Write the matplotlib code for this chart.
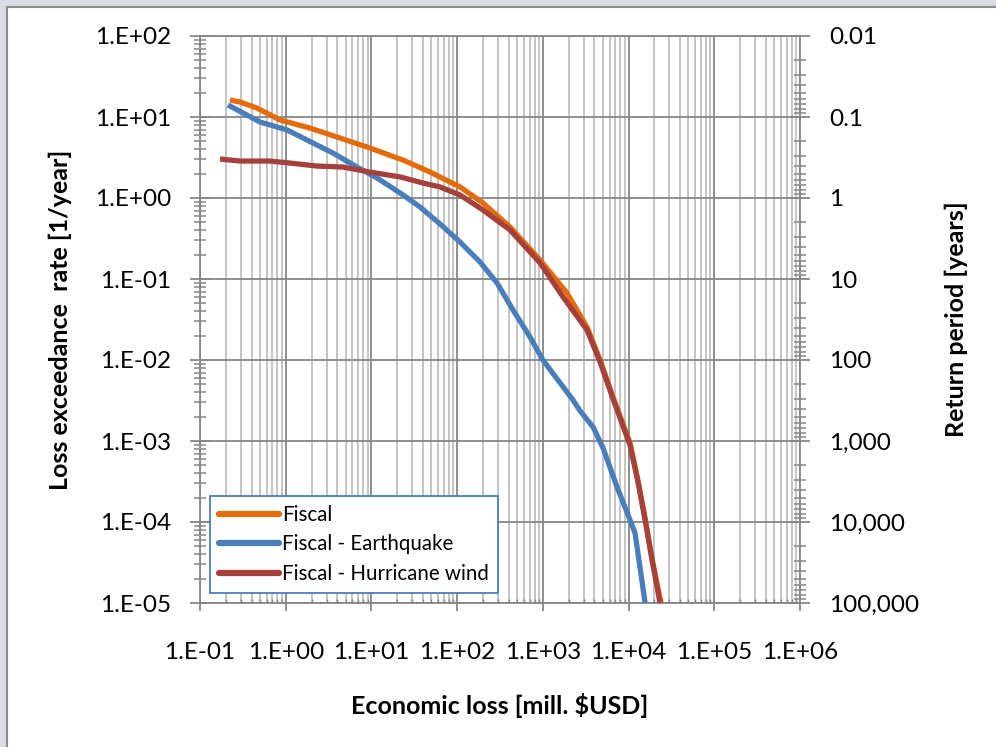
import numpy as np
import matplotlib
matplotlib.use("Agg")
import matplotlib.pyplot as plt
from matplotlib.patches import Rectangle
from matplotlib.ticker import LogLocator, FuncFormatter, NullFormatter

# loss exceedance curves: economic loss [mill. $USD] vs. exceedance rate [1/year]
fiscal_loss = [0.224, 0.293, 0.462, 0.857, 1.92, 3.97, 9.6, 23.4, 48.3, 108, 200,
               414, 927, 1910, 3280, 4650, 6590, 10400, 12900, 15600, 18800, 23900]
fiscal_rate = [16.2, 15.3, 12.9, 9.2, 7.3, 5.66, 4.14, 2.94, 2.09, 1.37, 0.867,
               0.439, 0.172, 0.0672, 0.0255, 0.0100, 0.00349, 9.5e-4, 3.2e-4,
               1.1e-4, 3.5e-5, 1.0e-5]

quake_loss = [0.212, 0.501, 1.04, 1.77, 3.56, 6.79, 11.6, 23.4, 36.9, 63.1, 108, 185,
              292, 449, 709, 1000, 2250, 2720, 3850, 5040, 7340, 10400, 11900, 15600]
quake_rate = [14.1, 8.67, 6.91, 5.2, 3.59, 2.41, 1.77, 1.09, 0.774, 0.478, 0.286,
              0.162, 0.0893, 0.0414, 0.0192, 0.0100, 0.0032, 0.00235, 0.00149,
              8.2e-4, 2.7e-4, 1.06e-4, 7.3e-5, 1.0e-5]

wind_loss = [0.171, 0.293, 0.656, 1.12, 2.32, 4.66, 9.6, 21.6, 40.0, 63.1, 108, 200,
             414, 927, 1720, 3280, 4650, 6590, 10400, 12900, 15600, 18800, 23300]
wind_rate = [3.03, 2.86, 2.86, 2.70, 2.48, 2.41, 2.09, 1.82, 1.53, 1.37, 1.09, 0.711,
             0.403, 0.158, 0.060, 0.0234, 0.00945, 0.0033, 8.9e-4, 3.1e-4, 1.06e-4,
             3.4e-5, 1.0e-5]

series_labels = ["Fiscal", "Fiscal - Earthquake", "Fiscal - Hurricane wind"]
series_colors = ["#E36C09", "#4A7EBB", "#A5403C"]

X_LIM = (1e-1, 1e6)
Y_LIM = (1e-5, 1e2)

GRID_MAJOR = "#868686"
GRID_MINOR = "#BFBFBF"

plt.rcParams["font.family"] = ["Lato", "DejaVu Sans"]

fig = plt.figure(figsize=(9.96, 7.47), dpi=100, facecolor="#D9DEE6")
# white chart area with grey frame (runs off the right/bottom edge)
fig.patches.append(Rectangle((7 / 996, -0.1), 1.2, 1 - 7 / 747 + 0.1,
                             transform=fig.transFigure, facecolor="white",
                             edgecolor="#8C8C8C", lw=1.5, zorder=-10))

ax = fig.add_axes([200 / 996, (747 - 603) / 747, 600 / 996, 567 / 747])
ax.set_xscale("log")
ax.set_yscale("log")
ax.set_xlim(*X_LIM)
ax.set_ylim(*Y_LIM)

for xs, ys, lab, col in zip([fiscal_loss, quake_loss, wind_loss],
                            [fiscal_rate, quake_rate, wind_rate],
                            series_labels, series_colors):
    ax.plot(xs, ys, color=col, lw=3.8, label=lab, solid_capstyle="butt",
            solid_joinstyle="round", zorder=3)
# hurricane drawn on top of the total where they overlap
ax.lines[2].set_zorder(4)

ax.xaxis.set_major_locator(LogLocator(base=10, numticks=20))
ax.xaxis.set_minor_locator(LogLocator(base=10, subs=np.arange(2, 10), numticks=20))
ax.yaxis.set_major_locator(LogLocator(base=10, numticks=20))
ax.yaxis.set_minor_locator(LogLocator(base=10, subs=np.arange(2, 10), numticks=20))

sci = FuncFormatter(lambda v, _: f"1.E{int(round(np.log10(v))):+03d}")
ax.xaxis.set_major_formatter(sci)
ax.yaxis.set_major_formatter(sci)
ax.xaxis.set_minor_formatter(NullFormatter())
ax.yaxis.set_minor_formatter(NullFormatter())

ax.grid(True, which="major", axis="both", color=GRID_MAJOR, lw=1.3, zorder=1)
ax.grid(True, which="minor", axis="x", color=GRID_MINOR, lw=1.3, zorder=1)
ax.set_axisbelow(True)

for s in ax.spines.values():
    s.set_color(GRID_MAJOR)
    s.set_linewidth(1.3)

ax.tick_params(axis="y", which="major", direction="inout", length=14, width=1.3,
               color=GRID_MAJOR, labelsize=17.5, pad=14)
ax.tick_params(axis="y", which="minor", direction="inout", length=9, width=1.1,
               color=GRID_MAJOR)
ax.tick_params(axis="x", which="major", direction="out", length=6, width=1.3,
               color=GRID_MAJOR, labelsize=17.5, pad=22)
ax.tick_params(axis="x", which="minor", direction="in", length=3, width=1.0,
               color=GRID_MAJOR)

ax.set_xlabel("Economic loss [mill. $USD]", fontsize=18, fontweight="bold", labelpad=22)
ax.set_ylabel("Loss exceedance  rate [1/year]", fontsize=18, fontweight="bold", labelpad=16)

# return period axis: reciprocal of the exceedance rate
ax2 = ax.twinx()
ax2.set_yscale("log")
ax2.set_ylim(1 / Y_LIM[0], 1 / Y_LIM[1])
ax2.yaxis.set_major_locator(LogLocator(base=10, numticks=20))
ax2.yaxis.set_minor_locator(LogLocator(base=10, subs=np.arange(2, 10), numticks=20))
ax2.yaxis.set_major_formatter(FuncFormatter(lambda v, _: f"{v:,.0f}" if v >= 1 else f"{v:g}"))
ax2.yaxis.set_minor_formatter(NullFormatter())
ax2.tick_params(axis="y", which="major", direction="inout", length=14, width=1.3,
                color=GRID_MAJOR, labelsize=17.5, pad=14)
ax2.tick_params(axis="y", which="minor", direction="inout", length=9, width=1.1,
                color=GRID_MAJOR)
for s in ax2.spines.values():
    s.set_visible(False)
ax2.set_ylabel("Return period [years]", fontsize=18, fontweight="bold", labelpad=18)

leg = ax.legend(loc="lower left", bbox_to_anchor=(10 / 600, 10 / 567),
                fontsize=14.8, frameon=True, fancybox=False, borderaxespad=0,
                handlelength=2.9, handletextpad=0.15, labelspacing=0.45,
                borderpad=0.45)
leg.get_frame().set_edgecolor("#4A7EBB")
leg.get_frame().set_linewidth(1.3)
leg.get_frame().set_alpha(1)
for h in leg.get_lines():
    h.set_linewidth(4.5)
    h.set_solid_capstyle("round")

fig.savefig("out.png", dpi=100, facecolor=fig.get_facecolor())
